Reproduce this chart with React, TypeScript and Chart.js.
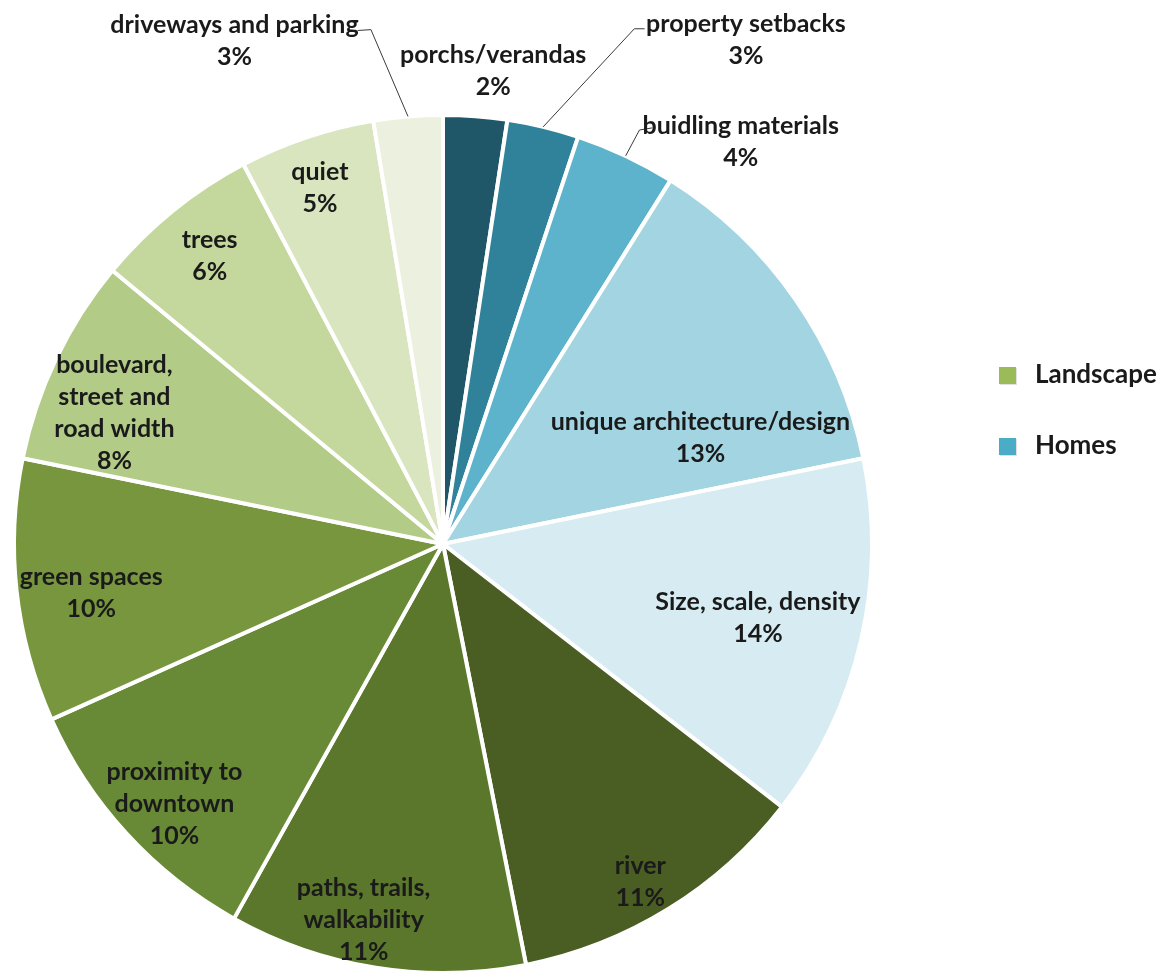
import React, { useEffect, useRef } from "react";
import { Chart, registerables } from "chart.js";

Chart.register(...registerables);

const categories = [
  "porchs/verandas",
  "property setbacks",
  "buidling materials",
  "unique architecture/design",
  "Size, scale, density",
  "river",
  "paths, trails, walkability",
  "proximity to downtown",
  "green spaces",
  "boulevard, street and road width",
  "trees",
  "quiet",
  "driveways and parking",
];
const values = [2.4, 2.7, 3.8, 12.9, 13.7, 11.4, 11.2, 10.2, 9.9, 7.8, 6.3, 5.1, 2.6];
const labelLines = [
  ["porchs/verandas"],
  ["property setbacks"],
  ["buidling materials"],
  ["unique architecture/design"],
  ["Size, scale, density"],
  ["river"],
  ["paths, trails,", "walkability"],
  ["proximity to", "downtown"],
  ["green spaces"],
  ["boulevard,", "street and", "road width"],
  ["trees"],
  ["quiet"],
  ["driveways and parking"],
];
const sliceColors = [
  "#1f5768",
  "#2f8299",
  "#5db3cb",
  "#a3d4e2",
  "#d6ebf2",
  "#4a5e23",
  "#5a772b",
  "#688935",
  "#78963e",
  "#b2cb86",
  "#c4d89d",
  "#d8e5bf",
  "#ebf1de",
];
const legendLabels = ["Landscape", "Homes"];
const legendColors = ["#9bbb59", "#4bacc6"];

// label anchor, in units of the pie radius from the pie centre
const labelAnchors: [number, number][] = [
  [0.117, -1.103],
  [0.706, -1.175],
  [0.694, -0.937],
  [0.6, -0.248],
  [0.734, 0.173],
  [0.46, 0.787],
  [-0.185, 0.876],
  [-0.626, 0.607],
  [-0.82, 0.114],
  [-0.766, -0.306],
  [-0.544, -0.671],
  [-0.287, -0.829],
  [-0.486, -1.173],
];
// leader lines: index -> [elbow, end] in radius units
const leaders: Record<number, [number, number][]> = {
  1: [[0.446, -1.201], [0.47, -1.201]],
  2: [[0.458, -0.965], [0.488, -0.97]],
  12: [[-0.168, -1.199], [-0.199, -1.197]],
};

const FONT = "bold 25px Lato";
const LINE_H = 32;

const labelPlugin = {
  id: "sliceLabels",
  afterDatasetsDraw(chart: any) {
    const ctx = chart.ctx as CanvasRenderingContext2D;
    const meta = chart.getDatasetMeta(0);
    ctx.save();
    meta.data.forEach((arc: any, i: number) => {
      const R = arc.outerRadius;
      const cx = arc.x;
      const cy = arc.y;
      const ld = leaders[i];
      if (ld) {
        const mid = (arc.startAngle + arc.endAngle) / 2;
        ctx.beginPath();
        ctx.strokeStyle = "#3a3a3a";
        ctx.lineWidth = 1;
        ctx.moveTo(cx + Math.cos(mid) * R, cy + Math.sin(mid) * R);
        ld.forEach(([fx, fy]) => ctx.lineTo(cx + fx * R, cy + fy * R));
        ctx.stroke();
      }
      const [ax, ay] = labelAnchors[i];
      const lx = cx + ax * R;
      const ly = cy + ay * R;
      const lines = [...labelLines[i], Math.round(values[i]) + "%"];
      const top = ly - ((lines.length - 1) * LINE_H) / 2;
      ctx.font = FONT;
      ctx.fillStyle = "#1a1a1a";
      ctx.textAlign = "center";
      ctx.textBaseline = "middle";
      lines.forEach((t, k) => ctx.fillText(t, lx, top + k * LINE_H));
    });
    // legend
    const lx = 999;
    legendLabels.forEach((name, k) => {
      const y = 375 + k * 71;
      ctx.fillStyle = "rgba(0,0,0,0.12)";
      ctx.fillRect(lx + 1, y - 7, 17, 17);
      ctx.fillStyle = legendColors[k];
      ctx.fillRect(lx, y - 8, 17, 17);
      ctx.fillStyle = "#1a1a1a";
      ctx.font = "bold 26px Lato";
      ctx.textAlign = "left";
      ctx.textBaseline = "middle";
      ctx.fillText(name, lx + 36, y);
    });
    ctx.restore();
  },
};

export default function App() {
  const ref = useRef<HTMLCanvasElement>(null);
  useEffect(() => {
    document.body.style.margin = "0";
    const chart = new Chart(ref.current!, {
      type: "pie",
      data: {
        labels: categories,
        datasets: [
          {
            data: values,
            backgroundColor: sliceColors,
            borderColor: "#ffffff",
            borderWidth: 4,
          },
        ],
      },
      options: {
        responsive: false,
        animation: false,
        devicePixelRatio: 1,
        layout: { padding: { left: 12, right: 296, top: 113, bottom: 2 } },
        plugins: { legend: { display: false }, tooltip: { enabled: false } },
        events: [],
      },
      plugins: [labelPlugin],
    });
    return () => chart.destroy();
  }, []);
  return (
    <div style={{ width: 1170, height: 977, background: "#fff" }}>
      <canvas ref={ref} width={1170} height={977} />
    </div>
  );
}
